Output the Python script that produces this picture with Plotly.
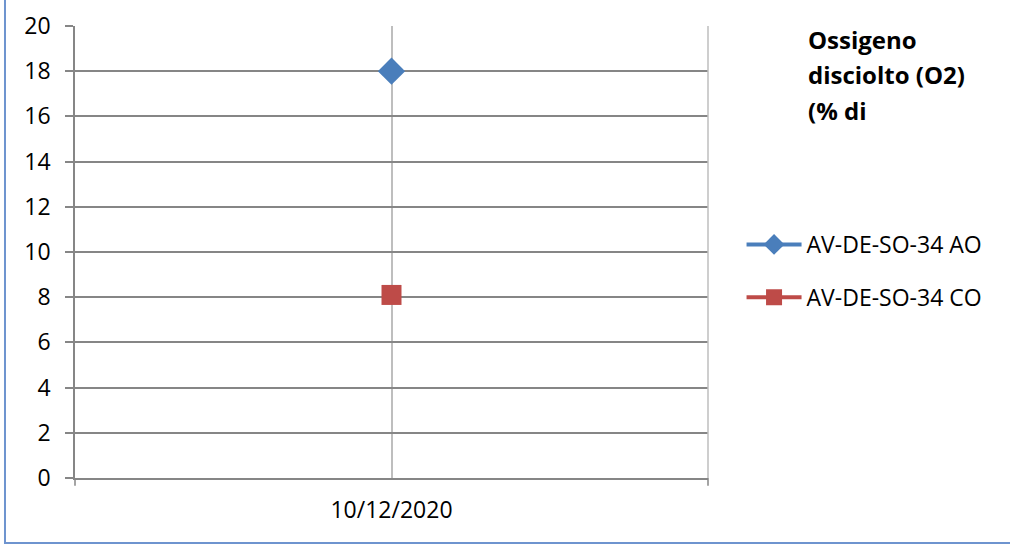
import plotly.graph_objects as go

categories = ["10/12/2020"]
series_names = ["AV-DE-SO-34 AO", "AV-DE-SO-34 CO"]
values_ao = [18]
values_co = [8.1]
y_ticks = [0, 2, 4, 6, 8, 10, 12, 14, 16, 18, 20]
title_lines = ["Ossigeno", "disciolto (O2)", "(% di"]

FONT = "Open Sans"

fig = go.Figure()
fig.add_trace(go.Scatter(
    x=categories, y=values_ao, name=series_names[0], mode="lines+markers",
    legendgroup="a",
    line=dict(color="#4A7EBB", width=4),
    marker=dict(symbol="diamond", size=21, color="#4A7EBB"),
))
fig.add_trace(go.Scatter(
    x=categories, y=values_co, name=series_names[1], mode="lines+markers",
    legendgroup="b",
    line=dict(color="#BE4B48", width=4),
    marker=dict(symbol="square", size=20, color="#BE4B48"),
))

title_y = [0.971, 0.893, 0.814]
annotations = [
    dict(text="<b>%s</b>" % t, xref="paper", yref="paper", x=1.155, y=yy,
         xanchor="left", yanchor="middle", align="left", showarrow=False,
         font=dict(family=FONT, size=24, color="black"))
    for t, yy in zip(title_lines, title_y)
]

fig.update_layout(
    width=1010, height=546,
    margin=dict(l=75, r=302, t=26, b=68, autoexpand=False),
    paper_bgcolor="white", plot_bgcolor="white",
    font=dict(family=FONT, size=23, color="black"),
    showlegend=True,
    legend=dict(x=1.053, y=0.458, xanchor="left", yanchor="middle",
                font=dict(family=FONT, size=23), itemwidth=55,
                tracegroupgap=20, bgcolor="rgba(0,0,0,0)"),
    xaxis=dict(type="category", range=[-0.5, 0.5], showgrid=True,
               gridcolor="#BEBEBE", gridwidth=1.5, showline=True,
               linecolor="#868686", linewidth=1.5, ticks="",
               tickfont=dict(size=23), ticklabelstandoff=11,
               zeroline=False, automargin=False),
    yaxis=dict(range=[0, 20], tickvals=y_ticks, showgrid=True,
               gridcolor="#868686", gridwidth=1.5, showline=True,
               linecolor="#868686", linewidth=1.5, ticks="outside",
               ticklen=8, tickcolor="#868686", tickwidth=1.5,
               tickfont=dict(size=23), ticklabelstandoff=10,
               zeroline=False, automargin=False),
    annotations=annotations,
    shapes=[
        dict(type="line", xref="paper", yref="paper", x0=1, x1=1, y0=0, y1=1,
             line=dict(color="#BEBEBE", width=1.5)),
        dict(type="line", xref="paper", yref="paper", x0=0, x1=0, y0=0, y1=-0.017,
             line=dict(color="#868686", width=1.5)),
        dict(type="line", xref="paper", yref="paper", x0=1, x1=1, y0=0, y1=-0.017,
             line=dict(color="#868686", width=1.5)),
        dict(type="rect", xref="paper", yref="paper", x0=-0.1106, x1=1.48,
             y0=-0.1438, y1=1.2, line=dict(color="#6E94CF", width=2),
             layer="below"),
    ],
)

fig.write_html("out.html",
               config={"displayModeBar": False},
               post_script="document.body.style.margin='0';")
